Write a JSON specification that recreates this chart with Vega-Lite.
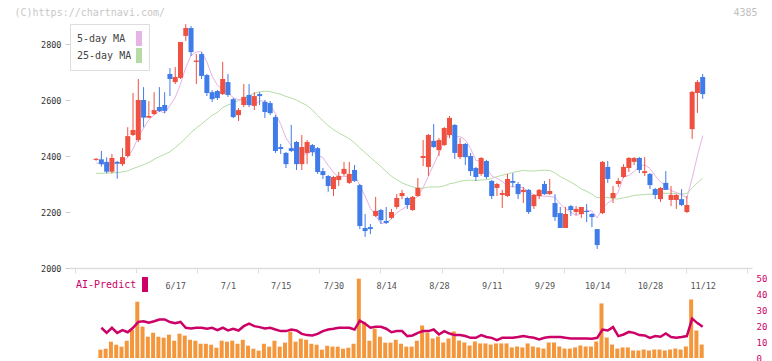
{
"$schema": "https://vega.github.io/schema/vega-lite/v6.json",
"padding": {"left": 14, "top": 7, "right": 0, "bottom": 0},
"background": "white",
"spacing": 10,
"bounds": "flush",
"resolve": {"scale": {"color": "independent", "x": "independent"}, "legend": {"color": "independent"}},
"datasets": {"d": [
{"i":1,"o":2386,"h":2393,"l":2383,"c":2390,"m5":2375,"m25":2338,"v":null,"ai":null},
{"i":2,"o":2388,"h":2418,"l":2362,"c":2371,"m5":2372,"m25":2338,"v":5.2,"ai":18.9},
{"i":3,"o":2379,"h":2395,"l":2338,"c":2344,"m5":2370,"m25":2339,"v":5.8,"ai":15.7},
{"i":4,"o":2344,"h":2407,"l":2338,"c":2393,"m5":2372,"m25":2340,"v":10.2,"ai":18.9},
{"i":5,"o":2379,"h":2382,"l":2319,"c":2373,"m5":2374.2,"m25":2341,"v":8.3,"ai":15.7},
{"i":6,"o":2371,"h":2428,"l":2364,"c":2396,"m5":2375.4,"m25":2343,"v":7.1,"ai":17.4},
{"i":7,"o":2400,"h":2503,"l":2396,"c":2471,"m5":2395.4,"m25":2347,"v":10.8,"ai":16.1},
{"i":8,"o":2475,"h":2625,"l":2471,"c":2493,"m5":2425.2,"m25":2355,"v":17.7,"ai":18.9},
{"i":9,"o":2457,"h":2675,"l":2450,"c":2600,"m5":2466.6,"m25":2362,"v":35.2,"ai":22.6},
{"i":10,"o":2600,"h":2646,"l":2503,"c":2537,"m5":2499.4,"m25":2369,"v":19.6,"ai":23.0},
{"i":11,"o":2537,"h":2596,"l":2535,"c":2543,"m5":2528.8,"m25":2377,"v":13.3,"ai":22.0},
{"i":12,"o":2550,"h":2628,"l":2546,"c":2564,"m5":2547.4,"m25":2388,"v":15.8,"ai":23.0},
{"i":13,"o":2575,"h":2646,"l":2557,"c":2561,"m5":2561,"m25":2398,"v":13.3,"ai":24.1},
{"i":14,"o":2582,"h":2628,"l":2553,"c":2561,"m5":2553.2,"m25":2406,"v":12.7,"ai":24.1},
{"i":15,"o":2693,"h":2714,"l":2614,"c":2675,"m5":2580.8,"m25":2415,"v":14.6,"ai":22.5},
{"i":16,"o":2664,"h":2718,"l":2657,"c":2682,"m5":2608.6,"m25":2430,"v":10.8,"ai":21.7},
{"i":17,"o":2679,"h":2807,"l":2675,"c":2807,"m5":2657.2,"m25":2446,"v":15.2,"ai":22.5},
{"i":18,"o":2829,"h":2871,"l":2811,"c":2857,"m5":2716.4,"m25":2464,"v":14.0,"ai":18.9},
{"i":19,"o":2857,"h":2864,"l":2757,"c":2771,"m5":2758.4,"m25":2484,"v":11.4,"ai":18.5},
{"i":20,"o":2736,"h":2764,"l":2657,"c":2741,"m5":2771.6,"m25":2500,"v":10.8,"ai":18.9},
{"i":21,"o":2764,"h":2771,"l":2675,"c":2686,"m5":2772.4,"m25":2514,"v":8.9,"ai":18.9},
{"i":22,"o":2689,"h":2693,"l":2614,"c":2625,"m5":2736,"m25":2530,"v":8.9,"ai":18.3},
{"i":23,"o":2628,"h":2635,"l":2593,"c":2603,"m5":2685.2,"m25":2545,"v":8.3,"ai":18.9},
{"i":24,"o":2632,"h":2636,"l":2600,"c":2607,"m5":2652.4,"m25":2556,"v":6.4,"ai":17.4},
{"i":25,"o":2621,"h":2736,"l":2618,"c":2675,"m5":2639.2,"m25":2573,"v":10.8,"ai":18.9},
{"i":26,"o":2664,"h":2693,"l":2611,"c":2618,"m5":2625.6,"m25":2582.2,"v":10.2,"ai":17.2},
{"i":27,"o":2603,"h":2607,"l":2535,"c":2539,"m5":2608.4,"m25":2588.9,"v":10.8,"ai":18.3},
{"i":28,"o":2546,"h":2571,"l":2525,"c":2564,"m5":2600.6,"m25":2597.7,"v":8.9,"ai":17.2},
{"i":29,"o":2582,"h":2657,"l":2575,"c":2611,"m5":2601.4,"m25":2606.4,"v":11.4,"ai":19.9},
{"i":30,"o":2618,"h":2657,"l":2575,"c":2582,"m5":2582.8,"m25":2614.8,"v":7.7,"ai":21.5},
{"i":31,"o":2579,"h":2628,"l":2564,"c":2614,"m5":2582,"m25":2623.5,"v":5.8,"ai":19.9},
{"i":32,"o":2621,"h":2628,"l":2582,"c":2614,"m5":2597,"m25":2629.2,"v":4.6,"ai":19.3},
{"i":33,"o":2593,"h":2600,"l":2536,"c":2557,"m5":2595.6,"m25":2631.8,"v":8.9,"ai":18.5},
{"i":34,"o":2589,"h":2596,"l":2546,"c":2553,"m5":2584,"m25":2629.9,"v":7.1,"ai":18.9},
{"i":35,"o":2539,"h":2546,"l":2411,"c":2418,"m5":2551.2,"m25":2625.1,"v":10.8,"ai":17.8},
{"i":36,"o":2432,"h":2443,"l":2407,"c":2425,"m5":2513.4,"m25":2620.4,"v":7.1,"ai":16.8},
{"i":37,"o":2411,"h":2414,"l":2357,"c":2371,"m5":2464.8,"m25":2612.7,"v":9.6,"ai":16.8},
{"i":38,"o":2428,"h":2511,"l":2414,"c":2418,"m5":2437,"m25":2607,"v":16.5,"ai":17.8},
{"i":39,"o":2450,"h":2454,"l":2350,"c":2371,"m5":2400.6,"m25":2599.4,"v":10.2,"ai":17.2},
{"i":40,"o":2371,"h":2475,"l":2350,"c":2432,"m5":2403.4,"m25":2589.6,"v":12.1,"ai":15.1},
{"i":41,"o":2411,"h":2457,"l":2371,"c":2450,"m5":2408.4,"m25":2580.4,"v":11.4,"ai":14.3},
{"i":42,"o":2439,"h":2443,"l":2400,"c":2414,"m5":2417,"m25":2564.6,"v":8.9,"ai":14.1},
{"i":43,"o":2428,"h":2432,"l":2336,"c":2343,"m5":2402,"m25":2544.1,"v":8.3,"ai":15.1},
{"i":44,"o":2346,"h":2357,"l":2318,"c":2332,"m5":2394.2,"m25":2526.5,"v":5.2,"ai":16.8},
{"i":45,"o":2329,"h":2332,"l":2272,"c":2293,"m5":2366.4,"m25":2508.6,"v":7.7,"ai":17.8},
{"i":46,"o":2282,"h":2329,"l":2257,"c":2325,"m5":2341.4,"m25":2494.2,"v":7.1,"ai":18.3},
{"i":47,"o":2314,"h":2343,"l":2293,"c":2329,"m5":2324.4,"m25":2482.3,"v":7.1,"ai":18.9},
{"i":48,"o":2336,"h":2379,"l":2329,"c":2354,"m5":2326.6,"m25":2472.4,"v":5.8,"ai":18.9},
{"i":49,"o":2304,"h":2379,"l":2300,"c":2336,"m5":2327.4,"m25":2461.5,"v":6.4,"ai":18.9},
{"i":50,"o":2350,"h":2368,"l":2307,"c":2311,"m5":2331,"m25":2447,"v":8.9,"ai":17.8},
{"i":51,"o":2296,"h":2300,"l":2139,"c":2150,"m5":2296,"m25":2428.2,"v":49.6,"ai":23.3},
{"i":52,"o":2143,"h":2193,"l":2111,"c":2132,"m5":2256.6,"m25":2412,"v":22.7,"ai":21.4},
{"i":53,"o":2146,"h":2157,"l":2121,"c":2139,"m5":2213.6,"m25":2395,"v":10.8,"ai":18.9},
{"i":54,"o":2186,"h":2254,"l":2182,"c":2204,"m5":2187.2,"m25":2378.7,"v":18.3,"ai":19.5},
{"i":55,"o":2207,"h":2211,"l":2157,"c":2171,"m5":2159.2,"m25":2362.2,"v":13.3,"ai":19.5},
{"i":56,"o":2168,"h":2218,"l":2157,"c":2161,"m5":2161.4,"m25":2344.1,"v":9.6,"ai":18.3},
{"i":57,"o":2179,"h":2211,"l":2175,"c":2200,"m5":2175,"m25":2327.6,"v":9.6,"ai":16.1},
{"i":58,"o":2218,"h":2264,"l":2211,"c":2250,"m5":2197.2,"m25":2315.3,"v":11.4,"ai":16.8},
{"i":59,"o":2257,"h":2279,"l":2246,"c":2268,"m5":2210,"m25":2303.9,"v":8.9,"ai":16.8},
{"i":60,"o":2250,"h":2254,"l":2211,"c":2225,"m5":2220.8,"m25":2296.2,"v":7.1,"ai":13.7},
{"i":61,"o":2207,"h":2257,"l":2204,"c":2254,"m5":2239.4,"m25":2289.3,"v":7.1,"ai":14.1},
{"i":62,"o":2257,"h":2321,"l":2254,"c":2286,"m5":2256.6,"m25":2285.9,"v":10.8,"ai":15.7},
{"i":63,"o":2393,"h":2457,"l":2364,"c":2400,"m5":2286.6,"m25":2285.2,"v":20.3,"ai":16.8},
{"i":64,"o":2361,"h":2479,"l":2329,"c":2475,"m5":2328,"m25":2289.4,"v":15.9,"ai":16.8},
{"i":65,"o":2454,"h":2514,"l":2429,"c":2432,"m5":2369.4,"m25":2289.4,"v":12.2,"ai":17.8},
{"i":66,"o":2421,"h":2464,"l":2400,"c":2457,"m5":2410,"m25":2289.6,"v":13.4,"ai":14.7},
{"i":67,"o":2439,"h":2504,"l":2436,"c":2500,"m5":2452.8,"m25":2293.1,"v":9.7,"ai":16.8},
{"i":68,"o":2475,"h":2543,"l":2464,"c":2536,"m5":2480,"m25":2300.8,"v":12.2,"ai":15.3},
{"i":69,"o":2511,"h":2514,"l":2389,"c":2411,"m5":2467.2,"m25":2304,"v":16.6,"ai":14.3},
{"i":70,"o":2396,"h":2464,"l":2389,"c":2443,"m5":2469.4,"m25":2310,"v":10.9,"ai":14.3},
{"i":71,"o":2443,"h":2446,"l":2368,"c":2396,"m5":2457.2,"m25":2312.8,"v":9.7,"ai":13.7},
{"i":72,"o":2400,"h":2411,"l":2329,"c":2346,"m5":2426.4,"m25":2313.5,"v":7.8,"ai":12.6},
{"i":73,"o":2357,"h":2361,"l":2311,"c":2325,"m5":2384.2,"m25":2312.3,"v":10.3,"ai":12.6},
{"i":74,"o":2336,"h":2396,"l":2329,"c":2393,"m5":2380.6,"m25":2314.6,"v":9.1,"ai":14.3},
{"i":75,"o":2382,"h":2386,"l":2318,"c":2325,"m5":2357,"m25":2315.2,"v":9.1,"ai":13.1},
{"i":76,"o":2311,"h":2314,"l":2246,"c":2257,"m5":2329.2,"m25":2319.4,"v":8.4,"ai":12.6},
{"i":77,"o":2286,"h":2304,"l":2257,"c":2300,"m5":2320,"m25":2326.2,"v":9.1,"ai":11.2},
{"i":78,"o":2261,"h":2279,"l":2214,"c":2268,"m5":2308.6,"m25":2331.3,"v":9.1,"ai":12.6},
{"i":79,"o":2257,"h":2336,"l":2254,"c":2318,"m5":2293.6,"m25":2335.9,"v":9.1,"ai":12.6},
{"i":80,"o":2311,"h":2339,"l":2289,"c":2304,"m5":2289.4,"m25":2341.2,"v":6.6,"ai":12.6},
{"i":81,"o":2300,"h":2307,"l":2246,"c":2264,"m5":2290.8,"m25":2345.3,"v":7.2,"ai":13.1},
{"i":82,"o":2271,"h":2289,"l":2232,"c":2279,"m5":2286.6,"m25":2348.5,"v":6.6,"ai":13.7},
{"i":83,"o":2279,"h":2282,"l":2193,"c":2200,"m5":2273,"m25":2346.5,"v":9.1,"ai":13.1},
{"i":84,"o":2221,"h":2264,"l":2211,"c":2261,"m5":2261.6,"m25":2346.2,"v":7.2,"ai":12.6},
{"i":85,"o":2257,"h":2282,"l":2246,"c":2279,"m5":2256.6,"m25":2348.4,"v":6.6,"ai":11.6},
{"i":86,"o":2300,"h":2311,"l":2261,"c":2264,"m5":2256.6,"m25":2348.8,"v":5.9,"ai":12.6},
{"i":87,"o":2264,"h":2318,"l":2261,"c":2275,"m5":2255.8,"m25":2348.3,"v":9.7,"ai":13.1},
{"i":88,"o":2232,"h":2264,"l":2168,"c":2182,"m5":2252.2,"m25":2339.6,"v":9.7,"ai":13.1},
{"i":89,"o":2196,"h":2218,"l":2143,"c":2143,"m5":2228.6,"m25":2326.3,"v":7.2,"ai":13.1},
{"i":90,"o":2143,"h":2218,"l":2143,"c":2193,"m5":2211.4,"m25":2316.8,"v":5.9,"ai":12.6},
{"i":91,"o":2221,"h":2225,"l":2186,"c":2207,"m5":2200,"m25":2306.8,"v":5.9,"ai":12.2},
{"i":92,"o":2200,"h":2221,"l":2189,"c":2211,"m5":2187.2,"m25":2295.2,"v":6.6,"ai":12.2},
{"i":93,"o":2193,"h":2218,"l":2179,"c":2218,"m5":2194.4,"m25":2282.5,"v":7.8,"ai":12.2},
{"i":94,"o":2204,"h":2229,"l":2164,"c":2200,"m5":2205.8,"m25":2274,"v":7.2,"ai":12.2},
{"i":95,"o":2193,"h":2196,"l":2146,"c":2182,"m5":2203.6,"m25":2263.6,"v":7.2,"ai":12.0},
{"i":96,"o":2139,"h":2139,"l":2068,"c":2082,"m5":2178.6,"m25":2251,"v":10.3,"ai":12.6},
{"i":97,"o":2196,"h":2382,"l":2193,"c":2379,"m5":2212.2,"m25":2252.4,"v":34.1,"ai":17.8},
{"i":98,"o":2361,"h":2382,"l":2304,"c":2318,"m5":2232.2,"m25":2252.1,"v":12.8,"ai":17.2},
{"i":99,"o":2250,"h":2293,"l":2232,"c":2268,"m5":2245.8,"m25":2247.1,"v":8.4,"ai":19.3},
{"i":100,"o":2300,"h":2321,"l":2289,"c":2311,"m5":2271.6,"m25":2246.5,"v":5.9,"ai":13.7},
{"i":101,"o":2325,"h":2371,"l":2321,"c":2361,"m5":2327.4,"m25":2250.7,"v":6.6,"ai":14.7},
{"i":102,"o":2357,"h":2396,"l":2343,"c":2393,"m5":2330.2,"m25":2254.4,"v":6.6,"ai":16.3},
{"i":103,"o":2379,"h":2396,"l":2368,"c":2393,"m5":2345.2,"m25":2259.4,"v":4.7,"ai":15.7},
{"i":104,"o":2393,"h":2396,"l":2339,"c":2350,"m5":2361.6,"m25":2260.7,"v":4.7,"ai":14.3},
{"i":105,"o":2339,"h":2396,"l":2329,"c":2346,"m5":2368.6,"m25":2262.4,"v":5.3,"ai":14.1},
{"i":106,"o":2336,"h":2339,"l":2282,"c":2296,"m5":2355.6,"m25":2263.6,"v":4.7,"ai":12.6},
{"i":107,"o":2282,"h":2286,"l":2246,"c":2261,"m5":2329.2,"m25":2262.9,"v":5.3,"ai":13.7},
{"i":108,"o":2246,"h":2289,"l":2236,"c":2286,"m5":2307.8,"m25":2266.4,"v":5.3,"ai":13.3},
{"i":109,"o":2304,"h":2346,"l":2279,"c":2279,"m5":2293.6,"m25":2267.1,"v":4.7,"ai":15.3},
{"i":110,"o":2243,"h":2293,"l":2221,"c":2261,"m5":2276.6,"m25":2266.4,"v":5.3,"ai":13.1},
{"i":111,"o":2243,"h":2264,"l":2211,"c":2261,"m5":2269.6,"m25":2266.2,"v":5.9,"ai":12.6},
{"i":112,"o":2246,"h":2282,"l":2221,"c":2225,"m5":2262.4,"m25":2264.2,"v":5.3,"ai":13.1},
{"i":113,"o":2200,"h":2257,"l":2196,"c":2225,"m5":2250.2,"m25":2266,"v":7.2,"ai":13.7},
{"i":114,"o":2496,"h":2632,"l":2461,"c":2629,"m5":2320.2,"m25":2285.4,"v":36.6,"ai":24.6},
{"i":115,"o":2625,"h":2671,"l":2554,"c":2664,"m5":2400.8,"m25":2304.2,"v":17.2,"ai":21.8},
{"i":116,"o":2682,"h":2693,"l":2604,"c":2621,"m5":2472.8,"m25":2320.8,"v":8.4,"ai":19.5}
]},
"vconcat": [
{
"width": 682, "height": 252,
"data": {"name": "d"},
"encoding": {
  "x": {"field": "i", "type": "quantitative", "scale": {"domain": [-3, 124.4], "nice": false, "zero": false},
        "axis": {"title": "4385", "values": [-3, 8.582, 20.164, 31.745, 43.327, 54.909, 66.491, 78.073, 89.655, 101.236, 112.818, 124.4]}}
},
"layer": [
  {"mark": {"type": "line", "strokeWidth": 1},
   "encoding": {"y": {"field": "m25", "type": "quantitative", "scale": {"domain": [2000, 2900], "nice": false, "zero": false}, "title": "(C)https://chartnavi.com/", "axis": {"values": [2000, 2200, 2400, 2600, 2800], "format": "d"}},
     "color": {"datum": "25-day MA", "type": "nominal", "scale": {"domain": ["5-day MA", "25-day MA"], "range": ["#e6b3e6", "#b5dca5"]},
       "legend": {"orient": "none", "legendX": 0, "legendY": 8, "title": null, "symbolType": "M-0.4,-1H0.4V1H-0.4Z", "symbolSize": 225, "symbolStrokeWidth": 0,
         "symbolFillColor": {"expr": "datum.value == '5-day MA' ? '#e6b3e6' : '#b5dca5'"},
         "labelExpr": "datum.label == '5-day MA' ? '\u00a05-day MA' : datum.label",
         "labelOffset": -69.5, "symbolOffset": 54.5, "padding": 7, "strokeColor": "#dddddd", "fillColor": "#ffffff", "rowPadding": 2, "labelFont": "DejaVu Sans Mono", "labelFontSize": 10, "labelColor": "#444444"}}}},
  {"mark": {"type": "line", "strokeWidth": 1},
   "encoding": {"y": {"field": "m5", "type": "quantitative", "title": "(C)https://chartnavi.com/", "axis": {"values": [2000, 2200, 2400, 2600, 2800], "format": "d"}},
     "color": {"datum": "5-day MA", "type": "nominal"}}},
  {"mark": {"type": "rule", "strokeWidth": 1},
   "encoding": {"y": {"field": "l", "type": "quantitative", "title": "(C)https://chartnavi.com/", "axis": {"values": [2000, 2200, 2400, 2600, 2800], "format": "d"}}, "y2": {"field": "h"},
     "stroke": {"condition": {"test": "datum.c >= datum.o", "value": "#ef5040"}, "value": "#3f7be9"}}},
  {"mark": {"type": "bar", "width": 5},
   "encoding": {"y": {"field": "o", "type": "quantitative", "title": "(C)https://chartnavi.com/", "axis": {"values": [2000, 2200, 2400, 2600, 2800], "format": "d"}}, "y2": {"field": "c"},
     "fill": {"condition": {"test": "datum.c >= datum.o", "value": "#ef5040"}, "value": "#3f7be9"}}}
]
},
{
"width": 682, "height": 80,
"data": {"name": "d"},
"encoding": {
  "x": {"field": "i", "type": "quantitative", "scale": {"domain": [-3, 124.4], "nice": false, "zero": false},
        "axis": {"title": null, "orient": "top", "values": [16, 26, 36, 46, 56, 66, 76, 86, 96, 106, 116],
                 "labelExpr": "['6/17','7/1','7/15','7/30','8/14','8/28','9/11','9/29','10/14','10/28','11/12'][round((datum.value-16)/10)]"}}
},
"layer": [
  {"mark": {"type": "bar", "width": 4, "color": "#f4973c", "xOffset": -1},
   "encoding": {"y": {"field": "v", "type": "quantitative", "scale": {"domain": [0, 50], "nice": false}, "axis": {"title": null, "orient": "right", "values": [0, 10, 20, 30, 40, 50]}}}},
  {"mark": {"type": "line", "strokeWidth": 2.5},
   "encoding": {"y": {"field": "ai", "type": "quantitative", "axis": {"title": null, "orient": "right", "values": [0, 10, 20, 30, 40, 50]}},
     "color": {"datum": "AI-Predict", "type": "nominal", "scale": {"domain": ["AI-Predict"], "range": ["#cc0066"]},
       "legend": {"orient": "none", "legendX": 6, "legendY": -1, "title": null, "symbolType": "M-0.4,-1H0.4V1H-0.4Z", "symbolSize": 225, "symbolStrokeWidth": 0, "symbolFillColor": "#cc0066",
         "labelOffset": -76.5, "symbolOffset": 61.5, "padding": 0, "labelFont": "DejaVu Sans Mono", "labelFontSize": 10, "labelColor": "#cc0066"}}}}
]
}
],
"config": {
  "view": {"stroke": null},
  "axisLeft": {"domain": false, "grid": false, "tickSize": 5, "tickColor": "#cccccc", "labelColor": "#333333", "labelFont": "DejaVu Sans Mono", "labelFontSize": 8.5, "labelPadding": 4,
               "titleX": -56, "titleY": -4, "titleAngle": 0, "titleAlign": "left", "titleBaseline": "middle", "titleColor": "#c8c8c8", "titleFont": "DejaVu Sans Mono", "titleFontSize": 10, "titleFontWeight": "normal"},
  "axisBottom": {"grid": false, "domainColor": "#dddddd", "domainWidth": 1.5, "tickColor": "#dddddd", "tickSize": 5, "labels": false,
               "titleX": 687, "titleY": -256, "titleAngle": 0, "titleAlign": "right", "titleBaseline": "middle", "titleColor": "#c0c0c0", "titleFont": "DejaVu Sans Mono", "titleFontSize": 10, "titleFontWeight": "normal"},
  "axisTop": {"grid": false, "domain": false, "ticks": false, "tickSize": 0, "labelColor": "#555555", "labelFont": "DejaVu Sans Mono", "labelFontSize": 8.5, "labelPadding": -12},
  "axisRight": {"grid": false, "domain": false, "ticks": false, "tickSize": 0, "labelColor": "#cc0066", "labelFont": "DejaVu Sans Mono", "labelFontSize": 9, "labelPadding": 4}
}
}
